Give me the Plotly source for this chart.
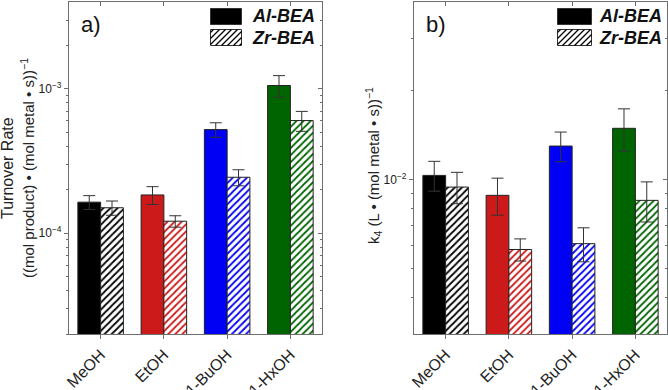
import math
import plotly.graph_objects as go

W, H = 668, 390

categories = ["MeOH", "EtOH", "1-BuOH", "1-HxOH"]
bar_colors = ["#000000", "#cc1a1a", "#0000f5", "#006400"]
series_names = ["Al-BEA", "Zr-BEA"]

# panel a: turnover rate
tor_al = [1.64e-4, 1.84e-4, 5.22e-4, 1.055e-3]
tor_al_err = [0.18e-4, 0.26e-4, 0.60e-4, 0.18e-3]
tor_zr = [1.50e-4, 1.21e-4, 2.44e-4, 6.03e-4]
tor_zr_err = [0.17e-4, 0.11e-4, 0.31e-4, 0.95e-4]

# panel b: k4
k4_al = [1.034e-2, 8.85e-3, 1.30e-2, 1.493e-2]
k4_al_err = [1.20e-3, 1.27e-3, 1.50e-3, 2.45e-3]
k4_zr = [9.44e-3, 5.80e-3, 6.07e-3, 8.51e-3]
k4_zr_err = [1.15e-3, 0.50e-3, 0.80e-3, 1.32e-3]

a_range = [2e-5, 4e-3]
a_major = [1e-4, 1e-3]
a_major_text = ["10<sup>\u22124</sup>", "10<sup>\u22123</sup>"]
a_minor = [2e-5, 3e-5, 4e-5, 5e-5, 6e-5, 7e-5, 8e-5, 9e-5,
           2e-4, 3e-4, 4e-4, 5e-4, 6e-4, 7e-4, 8e-4, 9e-4, 2e-3, 3e-3]
b_range = [3e-3, 4e-2]
b_major = [1e-2]
b_major_text = ["10<sup>\u22122</sup>"]
b_minor = [4e-3, 5e-3, 6e-3, 7e-3, 8e-3, 9e-3, 2e-2, 3e-2]

FONT = "Liberation Sans, Arial, sans-serif"
AXC = "#6e6e6e"
ERRC = "#333333"


def px(x):
    return x / W


def py(y):
    return 1 - y / H


fig = go.Figure()

panels = [
    dict(x="x", y="y", al=tor_al, ale=tor_al_err, zr=tor_zr, zre=tor_zr_err),
    dict(x="x2", y="y2", al=k4_al, ale=k4_al_err, zr=k4_zr, zre=k4_zr_err),
]

for p in panels:
    fig.add_trace(go.Bar(
        x=categories, y=p["al"], name=series_names[0],
        xaxis=p["x"], yaxis=p["y"],
        marker=dict(color=bar_colors, line=dict(color="#222222", width=1)),
        error_y=dict(type="data", array=p["ale"], color=ERRC, thickness=1, width=6),
        showlegend=False,
    ))
    fig.add_trace(go.Bar(
        x=categories, y=p["zr"], name=series_names[1],
        xaxis=p["x"], yaxis=p["y"],
        marker=dict(color="white", line=dict(color="#222222", width=1),
                    pattern=dict(shape="/", fgcolor=bar_colors, bgcolor="white",
                                 fgopacity=1, size=5, solidity=0.35,
                                 fillmode="overlay")),
        error_y=dict(type="data", array=p["zre"], color=ERRC, thickness=1, width=6),
        showlegend=False,
    ))

# dummy traces for mirrored tick axes
fig.add_trace(go.Scatter(x=[], y=[], xaxis="x3", yaxis="y3", showlegend=False))
fig.add_trace(go.Scatter(x=[], y=[], xaxis="x4", yaxis="y4", showlegend=False))

top_px, bot_px = 2, 334
a_l, a_r = 69, 322
b_l, b_r = 414, 667
ydom = [py(bot_px), py(top_px)]

tickfont = dict(family=FONT, size=12, color="#222222")


def xaxis_main(l, r, anchor):
    return dict(domain=[px(l), px(r)], anchor=anchor, type="category",
                categoryorder="array", categoryarray=categories,
                range=[-0.5, 3.5], showline=True, linecolor=AXC, linewidth=1.2,
                mirror=True, ticks="outside", ticklen=4, tickcolor=AXC,
                tickangle=-45, tickfont=dict(family=FONT, size=16, color="#222222"),
                showgrid=False, zeroline=False, automargin=False)


def yaxis_main(rng, major, major_text, minor, anchor):
    return dict(domain=ydom, anchor=anchor, type="log",
                range=[math.log10(rng[0]), math.log10(rng[1])],
                showline=True, linecolor=AXC, linewidth=1.2, mirror=True,
                ticks="outside", ticklen=4, tickcolor=AXC,
                tickmode="array", tickvals=major, ticktext=major_text,
                tickfont=tickfont, showgrid=False, zeroline=False,
                automargin=False,
                minor=dict(tickmode="array", tickvals=minor, ticks="outside",
                           ticklen=2, tickcolor=AXC, showgrid=False))


def xaxis_top(over, anchor):
    return dict(overlaying=over, anchor=anchor, side="top", range=[-0.5, 3.5],
                tickmode="array", tickvals=[0, 1, 2, 3], ticks="inside",
                ticklen=4, tickcolor=AXC, showticklabels=False, showline=False,
                showgrid=False, zeroline=False, automargin=False)


def yaxis_right(rng, major, minor, over, anchor):
    return dict(overlaying=over, anchor=anchor, side="right", type="log",
                range=[math.log10(rng[0]), math.log10(rng[1])],
                tickmode="array", tickvals=major, ticks="inside", ticklen=4,
                tickcolor=AXC, showticklabels=False, showline=False,
                showgrid=False, zeroline=False, automargin=False,
                minor=dict(tickmode="array", tickvals=minor, ticks="inside",
                           ticklen=2, tickcolor=AXC, showgrid=False))


fig.update_layout(
    width=W, height=H,
    margin=dict(l=0, r=0, t=0, b=0),
    paper_bgcolor="white", plot_bgcolor="white",
    barmode="group", bargap=0.28, bargroupgap=0,
    font=dict(family=FONT, color="#222222"),
    xaxis=xaxis_main(a_l, a_r, "y"),
    yaxis=yaxis_main(a_range, a_major, a_major_text, a_minor, "x"),
    xaxis2=xaxis_main(b_l, b_r, "y2"),
    yaxis2=yaxis_main(b_range, b_major, b_major_text, b_minor, "x2"),
    xaxis3=xaxis_top("x", "y3"),
    yaxis3=yaxis_right(a_range, a_major, a_minor, "y", "x3"),
    xaxis4=xaxis_top("x2", "y4"),
    yaxis4=yaxis_right(b_range, b_major, b_minor, "y2", "x4"),
)

annotations = []
shapes = []

# y-axis titles
annotations.append(dict(x=px(7), y=py(168), xref="paper", yref="paper",
                        text="Turnover Rate", textangle=-90, showarrow=False,
                        font=dict(family=FONT, size=16, color="#222222"),
                        xanchor="center", yanchor="middle"))
annotations.append(dict(x=px(27), y=py(168), xref="paper", yref="paper",
                        text="((mol product) \u2022 (mol metal \u2022 s))<sup>\u22121</sup>",
                        textangle=-90, showarrow=False,
                        font=dict(family=FONT, size=15, color="#222222"),
                        xanchor="center", yanchor="middle"))
annotations.append(dict(x=px(373), y=py(166), xref="paper", yref="paper",
                        text="k<sub>4</sub> (L \u2022 (mol metal \u2022 s))<sup>\u22121</sup>",
                        textangle=-90, showarrow=False,
                        font=dict(family=FONT, size=15, color="#222222"),
                        xanchor="center", yanchor="middle"))

# panel labels
annotations.append(dict(x=px(79), y=py(25), xref="paper", yref="paper",
                        text="a)", showarrow=False, xanchor="left", yanchor="middle",
                        font=dict(family=FONT, size=22, color="#111111")))
annotations.append(dict(x=px(424), y=py(25), xref="paper", yref="paper",
                        text="b)", showarrow=False, xanchor="left", yanchor="middle",
                        font=dict(family=FONT, size=22, color="#111111")))


def swatch(x0, y0, x1, y1, hatched):
    if not hatched:
        shapes.append(dict(type="rect", xref="paper", yref="paper",
                           x0=px(x0), x1=px(x1), y0=py(y1), y1=py(y0),
                           fillcolor="black", line=dict(color="#333333", width=1)))
        return
    shapes.append(dict(type="rect", xref="paper", yref="paper",
                       x0=px(x0), x1=px(x1), y0=py(y1), y1=py(y0),
                       fillcolor="white", line=dict(color="#333333", width=1)))
    s = 6.0
    c = x0 + y0 + 3
    while c < x1 + y1:
        xa = max(x0, c - y1)
        xb = min(x1, c - y0)
        if xb > xa + 0.5:
            shapes.append(dict(type="line", xref="paper", yref="paper",
                               x0=px(xa), y0=py(c - xa), x1=px(xb), y1=py(c - xb),
                               line=dict(color="black", width=1.3)))
        c += s


legend_specs = [
    (210.5, 241.5, 250),
    (557.5, 591.5, 597),
]
for (bx0, bx1, tx) in legend_specs:
    swatch(bx0, 8.5, bx1, 24.5, False)
    swatch(bx0, 29.5, bx1, 45.5, True)
    annotations.append(dict(x=px(tx), y=py(16.5), xref="paper", yref="paper",
                            text="<b><i>" + series_names[0] + "</i></b>", showarrow=False,
                            xanchor="left", yanchor="middle",
                            font=dict(family=FONT, size=18, color="#111111")))
    annotations.append(dict(x=px(tx), y=py(37.5), xref="paper", yref="paper",
                            text="<b><i>" + series_names[1] + "</i></b>", showarrow=False,
                            xanchor="left", yanchor="middle",
                            font=dict(family=FONT, size=18, color="#111111")))

fig.update_layout(annotations=annotations, shapes=shapes)

fig.write_html("out.html")
